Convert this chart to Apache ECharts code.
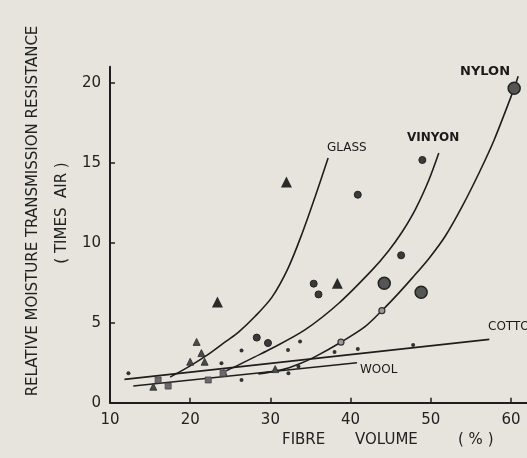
<!DOCTYPE html>
<html><head><meta charset="utf-8">
<script src="https://cdn.jsdelivr.net/npm/echarts@6/dist/echarts.min.js"></script>
<style>html,body{margin:0;padding:0;background:#e6e4dc}#c{width:527px;height:458px}</style>
</head><body><div id="c"></div>
<script>
// Curves (fibre volume %, relative resistance)
const glassCurve = [[17.5,1.6],[20.0,2.3],[22.2,3.0],[24.5,3.85],[26.0,4.4],[28.1,5.4],[30.2,6.6],[32.2,8.4],[33.9,10.5],[35.6,12.9],[37.2,15.3]];
const vinyonCurve = [[24.5,2.0],[26.0,2.35],[28.0,2.85],[30.2,3.4],[34.3,4.55],[38.5,6.2],[42.7,8.3],[44.75,9.5],[46.4,10.65],[48.1,12.1],[49.75,13.9],[51.0,15.6]];
const nylonCurve = [[28.5,1.8],[31.4,2.05],[33.5,2.4],[35.6,2.88],[38.9,3.81],[41.8,4.75],[43.9,5.75],[46.0,6.85],[47.7,7.8],[49.75,9.0],[51.8,10.4],[53.9,12.25],[56.0,14.34],[57.9,16.42],[60.4,19.65],[60.9,20.4]];
const cottonLine = [[11.8,1.46],[57.3,3.96]];
const woolLine = [[12.9,1.04],[40.8,2.5]];
// Measured points
const trianglesLarge = [[32.0,13.8],[23.4,6.3],[38.35,7.46]];
const trianglesSmall = [[20.8,3.8],[21.4,3.1],[20.0,2.56],[21.8,2.56],[15.4,1.0],[30.6,2.1],[24.2,1.85]];
const circlesLarge = [[60.4,19.65],[44.2,7.46],[48.8,6.9]];
const circlesMedium = [[48.95,15.17],[40.9,13.0],[28.3,4.07],[29.7,3.73],[35.4,7.44],[36.0,6.77],[46.3,9.21]];
const dotsSmall = [[12.3,1.84],[26.4,3.27],[23.9,2.46],[33.7,3.83],[32.2,3.3],[38.0,3.17],[40.9,3.36],[47.8,3.6],[26.4,1.42],[32.25,1.84],[33.5,2.27]];
const circlesOpen = [[38.8,3.78],[43.9,5.75]];
const squares = [[16.0,1.42],[17.25,1.04],[24.1,1.84],[22.25,1.42]];
// Axes
const xMin = 10, xMax = 62, xStep = 10;
const yMin = 0, yMax = 21, yStep = 5;

const ink = '#1e1e1e';
const font = 'DejaVu Sans';
const chart = echarts.init(document.getElementById('c'));
function curve(data){return {type:'line',data:data,smooth:0.3,symbol:'none',lineStyle:{color:ink,width:1.6},z:2};}
function pts(data,symbol,size,color,border,bw){return {type:'scatter',data:data,symbol:symbol,symbolSize:size,itemStyle:{color:color,borderColor:border||color,borderWidth:bw||0,opacity:1},z:3};}
chart.setOption({
  backgroundColor:'#e6e4dc',
  animation:false,
  grid:{left:110,right:0,top:66.7,bottom:55.3},
  xAxis:{type:'value',min:xMin,max:xMax,interval:xStep,
    axisLine:{show:true,onZero:false,lineStyle:{color:ink,width:2}},
    axisTick:{show:true,inside:true,length:5,lineStyle:{color:ink,width:1.5}},
    axisLabel:{showMaxLabel:false,color:'#222',fontFamily:font,fontSize:15,margin:10},
    splitLine:{show:false}},
  yAxis:{type:'value',min:yMin,max:yMax,interval:yStep,
    axisLine:{show:true,onZero:false,lineStyle:{color:ink,width:2}},
    axisTick:{show:true,inside:true,length:5,lineStyle:{color:ink,width:1.5}},
    axisLabel:{showMaxLabel:false,color:'#222',fontFamily:font,fontSize:15,margin:9},
    splitLine:{show:false}},
  series:[
    curve(glassCurve),curve(vinyonCurve),curve(nylonCurve),curve(cottonLine),curve(woolLine),
    pts(trianglesLarge,'triangle',11,'#2a2a2a'),
    pts(trianglesSmall,'triangle',7,'#4a4a4a','#2a2a2a',0.8),
    pts(circlesLarge,'circle',12,'#555','#222',1.5),
    pts(circlesMedium,'circle',7,'#3a3a3a','#222',1),
    pts(dotsSmall,'circle',4,'#333'),
    pts(circlesOpen,'circle',6,'#9a9a9a','#333',1.2),
    pts(squares,'rect',6,'#6a6a6a','#444',0.8)
  ],
  graphic:[
    {type:'text',x:33,y:211,rotation:Math.PI/2,style:{text:'RELATIVE MOISTURE TRANSMISSION RESISTANCE',fill:'#222',font:'15px '+font,align:'center',verticalAlign:'middle'}},
    {type:'text',x:62,y:213,rotation:Math.PI/2,style:{text:'( TIMES  AIR )',fill:'#222',font:'15px '+font,align:'center',verticalAlign:'middle'}},
    {type:'text',x:282,y:440,style:{text:'FIBRE',fill:'#222',font:'15px '+font,align:'left',verticalAlign:'middle'}},
    {type:'text',x:355,y:440,style:{text:'VOLUME',fill:'#222',font:'15px '+font,align:'left',verticalAlign:'middle'}},
    {type:'text',x:458,y:440,style:{text:'( % )',fill:'#222',font:'15px '+font,align:'left',verticalAlign:'middle'}},
    {type:'text',x:460,y:72,style:{text:'NYLON',fill:'#1a1a1a',font:'bold 13px '+font,align:'left',verticalAlign:'middle'}},
    {type:'text',x:407,y:138,style:{text:'VINYON',fill:'#1a1a1a',font:'bold 12px '+font,align:'left',verticalAlign:'middle'}},
    {type:'text',x:327,y:148,style:{text:'GLASS',fill:'#1a1a1a',font:'12px '+font,align:'left',verticalAlign:'middle'}},
    {type:'text',x:360,y:370,style:{text:'WOOL',fill:'#1a1a1a',font:'12px '+font,align:'left',verticalAlign:'middle'}},
    {type:'text',x:488,y:327,style:{text:'COTTON',fill:'#1a1a1a',font:'12px '+font,align:'left',verticalAlign:'middle'}}
  ]
});
</script></body></html>
